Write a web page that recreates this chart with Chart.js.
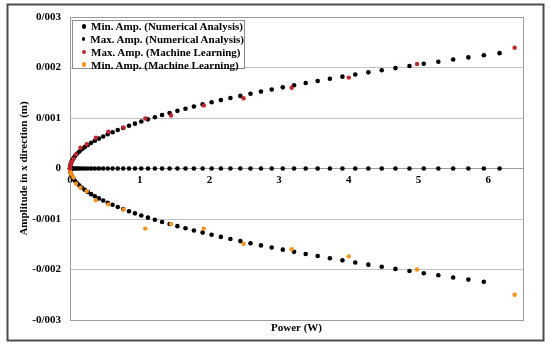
<!DOCTYPE html>
<html>
<head>
<meta charset="utf-8">
<script src="https://cdn.jsdelivr.net/npm/chart.js@4.4.1/dist/chart.umd.min.js"></script>
<style>
  html, body { margin: 0; padding: 0; background: #fff; }
  #wrap { position: relative; width: 550px; height: 345px; }
  #legend {
    position: absolute; left: 72px; top: 20px; width: 173px; height: 49px;
    box-sizing: border-box; border: 1px solid #8c8c8c; background: #fff;
    font: bold 11px "Liberation Serif", "Times New Roman", serif; color: #000;
  }
  #legend .rows { margin-top: -1px; }
  #legend .item { display: flex; align-items: center; height: 12.8px; white-space: nowrap; }
  #legend .dot { width: 4.6px; height: 4.6px; border-radius: 50%; margin: 0 5px 0 8.5px; }
</style>
</head>
<body>
<div id="wrap">
  <canvas id="chart" width="550" height="345"></canvas>
  <div id="legend"><div class="rows"></div></div>
</div>
<script>
// numerical analysis: power (W) and amplitude (m)
const power = [0, 0.002, 0.008, 0.019, 0.034, 0.053, 0.076, 0.104, 0.135, 0.171, 0.211,
  0.256, 0.304, 0.357, 0.414, 0.476, 0.541, 0.611, 0.685, 0.763, 0.846,
  0.932, 1.023, 1.118, 1.218, 1.321, 1.429, 1.541, 1.657, 1.778, 1.903,
  2.032, 2.165, 2.302, 2.444, 2.590, 2.740, 2.894, 3.053, 3.215, 3.382,
  3.554, 3.729, 3.909, 4.093, 4.281, 4.473, 4.670, 4.871, 5.076, 5.285,
  5.498, 5.716, 5.938, 6.164];
const ampMaxNum = [0, 0.0000423, 0.0000846, 0.000127, 0.000169, 0.000212, 0.000254, 0.000296, 0.000338, 0.000381, 0.000423,
  0.000465, 0.000508, 0.000550, 0.000592, 0.000635, 0.000677, 0.000719, 0.000761, 0.000804, 0.000846,
  0.000888, 0.000931, 0.000973, 0.001015, 0.001058, 0.001100, 0.001142, 0.001184, 0.001227, 0.001269,
  0.001311, 0.001354, 0.001396, 0.001438, 0.001481, 0.001523, 0.001565, 0.001607, 0.001650, 0.001692,
  0.001734, 0.001777, 0.001819, 0.001861, 0.001904, 0.001946, 0.001988, 0.002030, 0.002073, 0.002115,
  0.002157, 0.002200, 0.002242, 0.002284];
const ampMinNum = [0, -0.0000423, -0.0000846, -0.000127, -0.000169, -0.000212, -0.000254, -0.000296, -0.000338, -0.000381, -0.000423,
  -0.000465, -0.000508, -0.000550, -0.000592, -0.000635, -0.000677, -0.000719, -0.000761, -0.000804, -0.000846,
  -0.000888, -0.000931, -0.000973, -0.001015, -0.001058, -0.001100, -0.001142, -0.001184, -0.001227, -0.001269,
  -0.001311, -0.001354, -0.001396, -0.001438, -0.001481, -0.001523, -0.001565, -0.001607, -0.001650, -0.001692,
  -0.001734, -0.001777, -0.001819, -0.001861, -0.001904, -0.001946, -0.001988, -0.002030, -0.002073, -0.002115,
  -0.002157, -0.002200, -0.002242];
const ampMidNum = [0, 0, 0, 0, 0, 0, 0, 0, 0, 0, 0,
  0, 0, 0, 0, 0, 0, 0, 0, 0, 0,
  0, 0, 0, 0, 0, 0, 0, 0, 0, 0,
  0, 0, 0, 0, 0, 0, 0, 0, 0, 0,
  0, 0, 0, 0, 0, 0, 0, 0, 0, 0,
  0, 0, 0, 0];

// machine learning predictions
const mlPower = [0, 0.003, 0.01, 0.024, 0.05, 0.086, 0.15, 0.24, 0.37, 0.55, 0.77,
  1.08, 1.45, 1.92, 2.49, 3.18, 4.0, 4.98, 6.38];
const ampMaxML = [0, 0.00005, 0.00009, 0.00013, 0.00019, 0.00028, 0.00041, 0.00048, 0.00061, 0.00073, 0.00081,
  0.00099, 0.00105, 0.00125, 0.00139, 0.0016, 0.0018, 0.00207, 0.00239];
const ampMinML = [0, -0.00005, -0.00009, -0.00012, -0.00018, -0.0003, -0.00038, -0.00045, -0.00063, -0.00071, -0.00081,
  -0.00119, -0.0011, -0.00119, -0.00149, -0.0016, -0.00174, -0.002, -0.0025];

const xTickLabels = ['0', '1', '2', '3', '4', '5', '6'];
const yTickLabels = ['-0/003', '-0/002', '-0/001', '0', '0/001', '0/002', '0/003'];

const serif = '"Liberation Serif", "Times New Roman", serif';
const tickFont = { family: serif, size: 11, weight: 'bold' };
const RED = '#c1272d';
const ORANGE = '#f5931e';

const toPoints = (xs, ys) => ys.map((y, i) => ({ x: xs[i], y: y }));

const frames = {
  id: 'frames',
  beforeDraw(chart) {
    const { ctx } = chart;
    ctx.save();
    ctx.fillStyle = '#fff';
    ctx.fillRect(0, 0, chart.width, chart.height);
    ctx.strokeStyle = '#4d4d4d';
    ctx.lineWidth = 2;
    ctx.strokeRect(7.5, 4.5, 536, 336);
    ctx.restore();
  },
  beforeDatasetsDraw(chart) {
    const { ctx, chartArea: a } = chart;
    ctx.save();
    ctx.strokeStyle = '#9c9c9c';
    ctx.lineWidth = 1;
    ctx.strokeRect(Math.round(a.left) + 0.5, Math.round(a.top) + 0.5, Math.round(a.width), Math.round(a.height));
    ctx.restore();
  }
};

const ctx = document.getElementById('chart').getContext('2d');
const chart = new Chart(ctx, {
  type: 'scatter',
  data: {
    datasets: [
      { label: 'Min. Amp. (Numerical Analysis)', data: toPoints(power, ampMinNum),
        backgroundColor: '#000', pointRadius: 2.3, order: 2 },
      { label: 'Max. Amp. (Numerical Analysis)', data: toPoints(power, ampMaxNum),
        backgroundColor: '#000', pointRadius: 2.3, order: 2 },
      { label: 'Max. Amp. (Machine Learning)', data: toPoints(mlPower, ampMaxML),
        backgroundColor: RED, pointRadius: 2.2, order: 1 },
      { label: 'Min. Amp. (Machine Learning)', data: toPoints(mlPower, ampMinML),
        backgroundColor: ORANGE, pointRadius: 2.2, order: 1 },
      { label: '', data: toPoints(power, ampMidNum),
        backgroundColor: '#000', pointRadius: 2.3, order: 2 }
    ]
  },
  options: {
    responsive: false,
    animation: false,
    clip: false,
    elements: { point: { borderWidth: 0, hoverRadius: 2.3 } },
    layout: { padding: { left: 0, top: 17, right: 27, bottom: 0 } },
    plugins: { legend: { display: false }, tooltip: { enabled: false } },
    scales: {
      x: {
        type: 'linear', min: 0, max: 6.5, position: { y: 0 },
        grid: { display: false, drawTicks: false },
        border: { display: true, color: '#9c9c9c', width: 1 },
        ticks: { stepSize: 1, includeBounds: false, padding: 5, color: '#000', font: tickFont,
          maxRotation: 0, callback: v => xTickLabels[v] ?? '' },
        afterFit: s => { s.height = 0; }
      },
      xTitle: {
        type: 'linear', axis: 'x', position: 'bottom',
        grid: { display: false, drawTicks: false },
        border: { display: false },
        ticks: { display: false },
        title: { display: true, text: 'Power (W)', color: '#000', font: tickFont,
          padding: { top: 0, bottom: 10 } },
        afterFit: s => { s.height = 25; }
      },
      y: {
        type: 'linear', min: -0.003, max: 0.003,
        grid: { color: '#c2c2c2', drawTicks: false },
        border: { color: '#9c9c9c' },
        ticks: { stepSize: 0.001, padding: 9, color: '#000', font: tickFont,
          callback: v => yTickLabels[Math.round(v * 1000) + 3] },
        title: { display: true, text: 'Amplitude in x direction (m)', color: '#000', font: tickFont,
          padding: { top: 18, bottom: 0 } },
        afterFit: s => { s.width = 70; }
      }
    }
  },
  plugins: [frames]
});

// legend drawn inside the plot, as in the original figure
const rows = document.querySelector('#legend .rows');
chart.data.datasets.filter(d => d.label).forEach(d => {
  const item = document.createElement('div');
  item.className = 'item';
  const dot = document.createElement('span');
  dot.className = 'dot';
  dot.style.background = d.backgroundColor;
  item.appendChild(dot);
  item.appendChild(document.createTextNode(d.label));
  rows.appendChild(item);
});
</script>
</body>
</html>
